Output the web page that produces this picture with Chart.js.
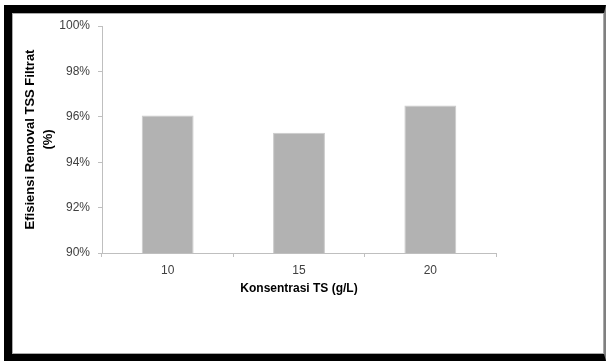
<!DOCTYPE html>
<html>
<head>
<meta charset="utf-8">
<script src="https://cdn.jsdelivr.net/npm/chart.js@4"></script>
<style>
  body { margin: 0; background: #fff; }
  #wrap { position: relative; width: 608px; height: 361px; overflow: hidden; }
  #frame {
    position: absolute; left: 4px; top: 5px; right: 2px; bottom: 0;
    border-top: 8px solid #000; border-left: 8px solid #000;
    border-bottom: 7px solid #000; border-right: 2px solid #808080;
    box-shadow: inset 0 0 0 1px #aaa;
  }
  canvas { position: absolute; left: 0; top: 0; }
</style>
</head>
<body>
<div id="wrap">
  <div id="frame"></div>
  <canvas id="myChart" width="608" height="361"></canvas>
</div>
<script>
// categories (TS concentration, g/L)
const categories = ['10', '15', '20'];
// removal efficiency of TSS in filtrate (%)
const efficiency = [96.06, 95.3, 96.5];
// y axis ticks
const yTicks = [90, 92, 94, 96, 98, 100];

const axisGray = '#bfbfbf';
const font = { family: "'Liberation Sans', Arial, sans-serif", size: 12 };

var ctx = document.getElementById('myChart').getContext('2d');
var myChart = new Chart(ctx, {
  type: 'bar',
  data: {
    labels: categories,
    datasets: [{
      data: efficiency,
      backgroundColor: '#b2b2b2',
      borderColor: '#cacaca',
      borderWidth: 1,
      categoryPercentage: 1,
      barPercentage: 0.395
    }]
  },
  options: {
    responsive: false,
    animation: false,
    devicePixelRatio: 1,
    layout: { padding: { left: 0, top: 26, right: 112, bottom: 0 } },
    plugins: { legend: { display: false }, tooltip: { enabled: false } },
    scales: {
      x: {
        grid: { display: true, drawOnChartArea: false, tickLength: 4, color: axisGray },
        border: { color: axisGray },
        ticks: { color: '#404040', font: font, padding: 6 },
        title: {
          display: true,
          text: 'Konsentrasi TS (g/L)',
          color: '#000',
          font: { family: font.family, size: 12, weight: 'bold' },
          padding: { top: 0, bottom: 65 }
        },
        afterFit: function(scale) { scale.height = 108; }
      },
      y: {
        min: yTicks[0],
        max: yTicks[yTicks.length - 1],
        afterBuildTicks: function(scale) {
          scale.ticks = yTicks.map(function(v) { return { value: v }; });
        },
        grid: { display: true, drawOnChartArea: false, tickLength: 4, color: axisGray },
        border: { color: axisGray },
        ticks: {
          color: '#404040', font: font, padding: 8,
          callback: function(v) { return v + '%'; }
        },
        title: {
          display: true,
          text: ['Efisiensi Removal TSS Filtrat', '(%)'],
          color: '#000',
          font: { family: font.family, size: 13, weight: 'bold', lineHeight: 1.35 },
          padding: { top: 22, bottom: 0 }
        },
        afterFit: function(scale) { scale.width = 102; }
      }
    }
  }
});
</script>
</body>
</html>
